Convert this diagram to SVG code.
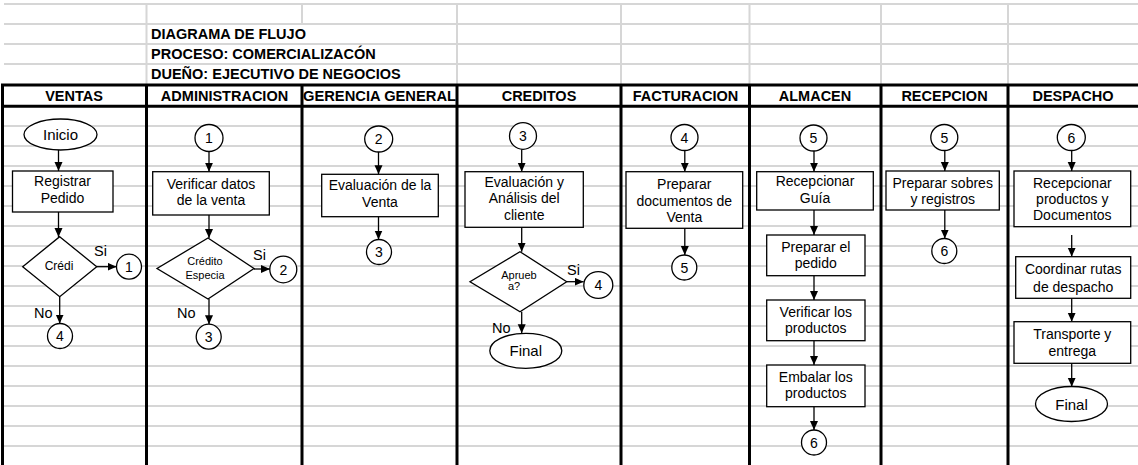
<svg xmlns="http://www.w3.org/2000/svg" width="1138" height="465" viewBox="0 0 1138 465">
<style>
.grid{stroke:#d6d6d6;stroke-width:2;fill:none}
.lane{stroke:#000;stroke-width:3;fill:none}
.box{fill:#fff;stroke:#000;stroke-width:1.3}
.t{font-family:"Liberation Sans",Arial,sans-serif;font-size:14px;fill:#000;text-anchor:middle}
.s{font-family:"Liberation Sans",Arial,sans-serif;font-size:11px;fill:#000;text-anchor:middle}
.lbl{font-family:"Liberation Sans",Arial,sans-serif;font-size:14.5px;fill:#000}
.h{font-family:"Liberation Sans",Arial,sans-serif;font-size:14.5px;font-weight:bold;fill:#000;text-anchor:middle}
.ti{font-family:"Liberation Sans",Arial,sans-serif;font-size:14.5px;font-weight:bold;fill:#000}
.c{stroke:#000;stroke-width:1.3;fill:none;marker-end:url(#ah)}
</style>
<defs>
<marker id="ah" markerUnits="userSpaceOnUse" markerWidth="10" markerHeight="9" refX="9" refY="4" orient="auto">
<path d="M0,0 L9,4 L0,8 z" fill="#000"/>
</marker>
</defs>
<rect x="0" y="0" width="1138" height="465" fill="#fff"/>
<g id="grid">
<path class="grid" d="M4,4H1138M4,24H1138M4,44H1138M4,64H1138"/>
<path class="grid" d="M146.5,4V84M302,4V24M457,4V84M621,4V84M749.5,4V84M881,4V84M1008,4V84"/>
<path class="grid" d="M3,126H1138M3,146H1138M3,166H1138M3,186H1138M3,206H1138M3,226H1138M3,246H1138M3,266H1138M3,286H1138M3,306H1138M3,326H1138M3,346H1138M3,366H1138M3,386H1138M3,406H1138M3,426H1138M3,446H1138"/>
</g>
<g id="title">
<text class="ti" x="151" y="38.5">DIAGRAMA DE FLUJO</text>
<text class="ti" x="151" y="58.5">PROCESO: COMERCIALIZACÓN</text>
<text class="ti" x="151" y="78.5">DUEÑO: EJECUTIVO DE NEGOCIOS</text>
</g>
<g id="lanes">
<path class="lane" d="M1,85H1138M1,106.3H1138"/>
<path class="lane" d="M2.5,84V465M146.5,84V465M302,84V465M457,84V465M621,84V465M749.5,84V465M881,84V465M1008,84V465"/>
<text class="h" x="74" y="101">VENTAS</text>
<text class="h" x="224.5" y="101">ADMINISTRACION</text>
<text class="h" x="379.5" y="101" textLength="153" lengthAdjust="spacingAndGlyphs">GERENCIA GENERAL</text>
<text class="h" x="539" y="101">CREDITOS</text>
<text class="h" x="685.5" y="101">FACTURACION</text>
<text class="h" x="815" y="101">ALMACEN</text>
<text class="h" x="944.5" y="101">RECEPCION</text>
<text class="h" x="1073" y="101">DESPACHO</text>
</g>
<g id="connectors">
<line class="c" x1="58.5" y1="150" x2="58.5" y2="171"/>
<line class="c" x1="58.5" y1="212" x2="58.5" y2="237"/>
<line class="c" x1="96.7" y1="266.7" x2="116.5" y2="266.7"/>
<line class="c" x1="59.7" y1="296.7" x2="59.7" y2="323.5"/>
<line class="c" x1="209" y1="151.5" x2="209" y2="171.7"/>
<line class="c" x1="209" y1="215" x2="209" y2="238"/>
<line class="c" x1="254" y1="269" x2="270" y2="269"/>
<line class="c" x1="209" y1="299" x2="209" y2="324.2"/>
<line class="c" x1="378.5" y1="152" x2="378.5" y2="174.3"/>
<line class="c" x1="378.5" y1="216.7" x2="378.5" y2="239.5"/>
<line class="c" x1="521.7" y1="149.3" x2="521.7" y2="171.7"/>
<line class="c" x1="521.7" y1="227.3" x2="521.7" y2="251.7"/>
<line class="c" x1="566.7" y1="281.7" x2="583.6" y2="281.7"/>
<line class="c" x1="521.7" y1="311.7" x2="521.7" y2="333.3"/>
<line class="c" x1="684.8" y1="150.5" x2="684.8" y2="171.7"/>
<line class="c" x1="684.8" y1="228.3" x2="684.8" y2="255"/>
<line class="c" x1="814" y1="151" x2="814" y2="171.7"/>
<line class="c" x1="814" y1="210" x2="814" y2="235"/>
<line class="c" x1="814" y1="275.7" x2="814" y2="300"/>
<line class="c" x1="814" y1="340.7" x2="814" y2="365"/>
<line class="c" x1="814" y1="406.7" x2="814" y2="430"/>
<line class="c" x1="944.8" y1="150.5" x2="944.8" y2="171"/>
<line class="c" x1="944.8" y1="210" x2="944.8" y2="238.5"/>
<line class="c" x1="1071.7" y1="151" x2="1071.7" y2="171"/>
<line class="c" x1="1071.7" y1="235" x2="1071.7" y2="256.7"/>
<line class="c" x1="1071.7" y1="298.3" x2="1071.7" y2="321.7"/>
<line class="c" x1="1071.7" y1="363.3" x2="1071.7" y2="386.7"/>
<text class="lbl" x="94" y="256">Si</text>
<text class="lbl" x="34" y="318">No</text>
<text class="lbl" x="253" y="259.5">Si</text>
<text class="lbl" x="177" y="318">No</text>
<text class="lbl" x="567" y="275">Si</text>
<text class="lbl" x="492" y="333">No</text>
</g>
<g id="v-inicio"><ellipse class="box" cx="60.5" cy="134.5" rx="36.5" ry="15.5"/><text class="t" x="60.5" y="139.5" style="font-size:15px">Inicio</text></g>
<g id="v-registrar"><rect class="box" x="12.5" y="171" width="100.5" height="41"/><text class="t" x="62.5" y="186">Registrar</text><text class="t" x="62.5" y="202.5">Pedido</text></g>
<g id="v-credito"><polygon class="box" points="59.7,236.7 96.7,266.7 59.7,296.7 22.7,266.7"/><text class="t" x="59" y="270" style="font-size:12px">Crédi</text></g>
<g id="v-c1"><circle class="box" cx="129" cy="266.7" r="12.5"/><text class="t" x="129" y="271.7">1</text></g>
<g id="v-c4"><circle class="box" cx="60" cy="336" r="12.5"/><text class="t" x="60" y="341">4</text></g>
<g id="a-c1"><ellipse class="box" cx="209" cy="138" rx="14" ry="13.5"/><text class="t" x="209" y="143">1</text></g>
<g id="a-verificar"><rect class="box" x="152.7" y="171.7" width="116.6" height="43.3"/><text class="t" x="211" y="188.5">Verificar datos</text><text class="t" x="211" y="205">de la venta</text></g>
<g id="a-especial"><polygon class="box" points="208,238 254,268.5 208,299 157,268.5"/><text class="s" x="205" y="265.3">Crédito</text><text class="s" x="205" y="278.7">Especia</text></g>
<g id="a-c2"><ellipse class="box" cx="283.3" cy="269.5" rx="13.5" ry="13.3"/><text class="t" x="283.3" y="274.5">2</text></g>
<g id="a-c3"><circle class="box" cx="208.7" cy="336.7" r="12.5"/><text class="t" x="208.7" y="341.7">3</text></g>
<g id="g-c2"><ellipse class="box" cx="378.7" cy="139" rx="14" ry="13"/><text class="t" x="378.7" y="144">2</text></g>
<g id="g-evaluacion"><rect class="box" x="321.7" y="174.3" width="116.6" height="42.4"/><text class="t" x="380" y="190">Evaluación de la</text><text class="t" x="380" y="206.5">Venta</text></g>
<g id="g-c3"><circle class="box" cx="379" cy="252" r="12.5"/><text class="t" x="379" y="257">3</text></g>
<g id="c-c3"><ellipse class="box" cx="523" cy="136" rx="13.5" ry="13.3"/><text class="t" x="523" y="141">3</text></g>
<g id="c-analisis"><rect class="box" x="465" y="171.7" width="118.3" height="55.6"/><text class="t" x="524.2" y="186.7">Evaluación y</text><text class="t" x="524.2" y="203.3">Análisis del</text><text class="t" x="524.2" y="219.5">cliente</text></g>
<g id="c-aprueba"><polygon class="box" points="520,251.7 566.7,281.7 520,311.7 470,281.7"/><text class="s" x="519" y="279">Aprueb</text><text class="s" x="514" y="290.3">a?</text></g>
<g id="c-c4"><ellipse class="box" cx="598.3" cy="285" rx="14.5" ry="13.3"/><text class="t" x="598.3" y="290">4</text></g>
<g id="c-final"><ellipse class="box" cx="525.8" cy="350.8" rx="36" ry="17.5"/><text class="t" x="525.8" y="356.3" style="font-size:15px">Final</text></g>
<g id="f-c4"><ellipse class="box" cx="684.5" cy="137.5" rx="13.5" ry="13"/><text class="t" x="684.5" y="142.5">4</text></g>
<g id="f-preparar"><rect class="box" x="626" y="171.7" width="116.7" height="56.6"/><text class="t" x="684.3" y="189">Preparar</text><text class="t" x="684.3" y="205.5">documentos de</text><text class="t" x="684.3" y="222">Venta</text></g>
<g id="f-c5"><circle class="box" cx="684.3" cy="267.5" r="12.5"/><text class="t" x="684.3" y="272.5">5</text></g>
<g id="al-c5"><ellipse class="box" cx="813.5" cy="138" rx="13.5" ry="13"/><text class="t" x="813.5" y="143">5</text></g>
<g id="al-guia"><rect class="box" x="756.7" y="171.7" width="116.6" height="38.3"/><text class="t" x="815" y="186">Recepcionar</text><text class="t" x="815" y="203.3">Guía</text></g>
<g id="al-pedido"><rect class="box" x="766.7" y="235" width="98.3" height="40.7"/><text class="t" x="815.8" y="251.7">Preparar el</text><text class="t" x="815.8" y="268.3">pedido</text></g>
<g id="al-verificar"><rect class="box" x="766.7" y="300" width="98.3" height="40.7"/><text class="t" x="815.8" y="316.7">Verificar los</text><text class="t" x="815.8" y="333.3">productos</text></g>
<g id="al-embalar"><rect class="box" x="766.7" y="365" width="98.3" height="41.7"/><text class="t" x="815.8" y="381.7">Embalar los</text><text class="t" x="815.8" y="398.3">productos</text></g>
<g id="al-c6"><circle class="box" cx="814" cy="442.5" r="12.5"/><text class="t" x="814" y="447.5">6</text></g>
<g id="r-c5"><ellipse class="box" cx="944.3" cy="137.5" rx="13.5" ry="13"/><text class="t" x="944.3" y="142.5">5</text></g>
<g id="r-sobres"><rect class="box" x="886" y="171" width="113.3" height="39"/><text class="t" x="942.7" y="188.3">Preparar sobres</text><text class="t" x="942.7" y="204.3">y registros</text></g>
<g id="r-c6"><circle class="box" cx="944.3" cy="251" r="12.5"/><text class="t" x="944.3" y="256">6</text></g>
<g id="d-c6"><ellipse class="box" cx="1071.3" cy="137.5" rx="14" ry="13"/><text class="t" x="1071.3" y="142.5">6</text></g>
<g id="d-recepcionar"><rect class="box" x="1014" y="171" width="116.7" height="55.7"/><text class="t" x="1072.3" y="187.7">Recepcionar</text><text class="t" x="1072.3" y="204.3">productos y</text><text class="t" x="1072.3" y="220">Documentos</text></g>
<g id="d-coordinar"><rect class="box" x="1015.7" y="256.7" width="115" height="41.6"/><text class="t" x="1073.2" y="274.3">Coordinar rutas</text><text class="t" x="1073.2" y="291.7">de despacho</text></g>
<g id="d-transporte"><rect class="box" x="1014" y="321.7" width="116.7" height="41.6"/><text class="t" x="1072.3" y="339">Transporte y</text><text class="t" x="1072.3" y="355.7">entrega</text></g>
<g id="d-final"><ellipse class="box" cx="1071.5" cy="404" rx="36" ry="17.5"/><text class="t" x="1071.5" y="409.5" style="font-size:15px">Final</text></g>
</svg>
